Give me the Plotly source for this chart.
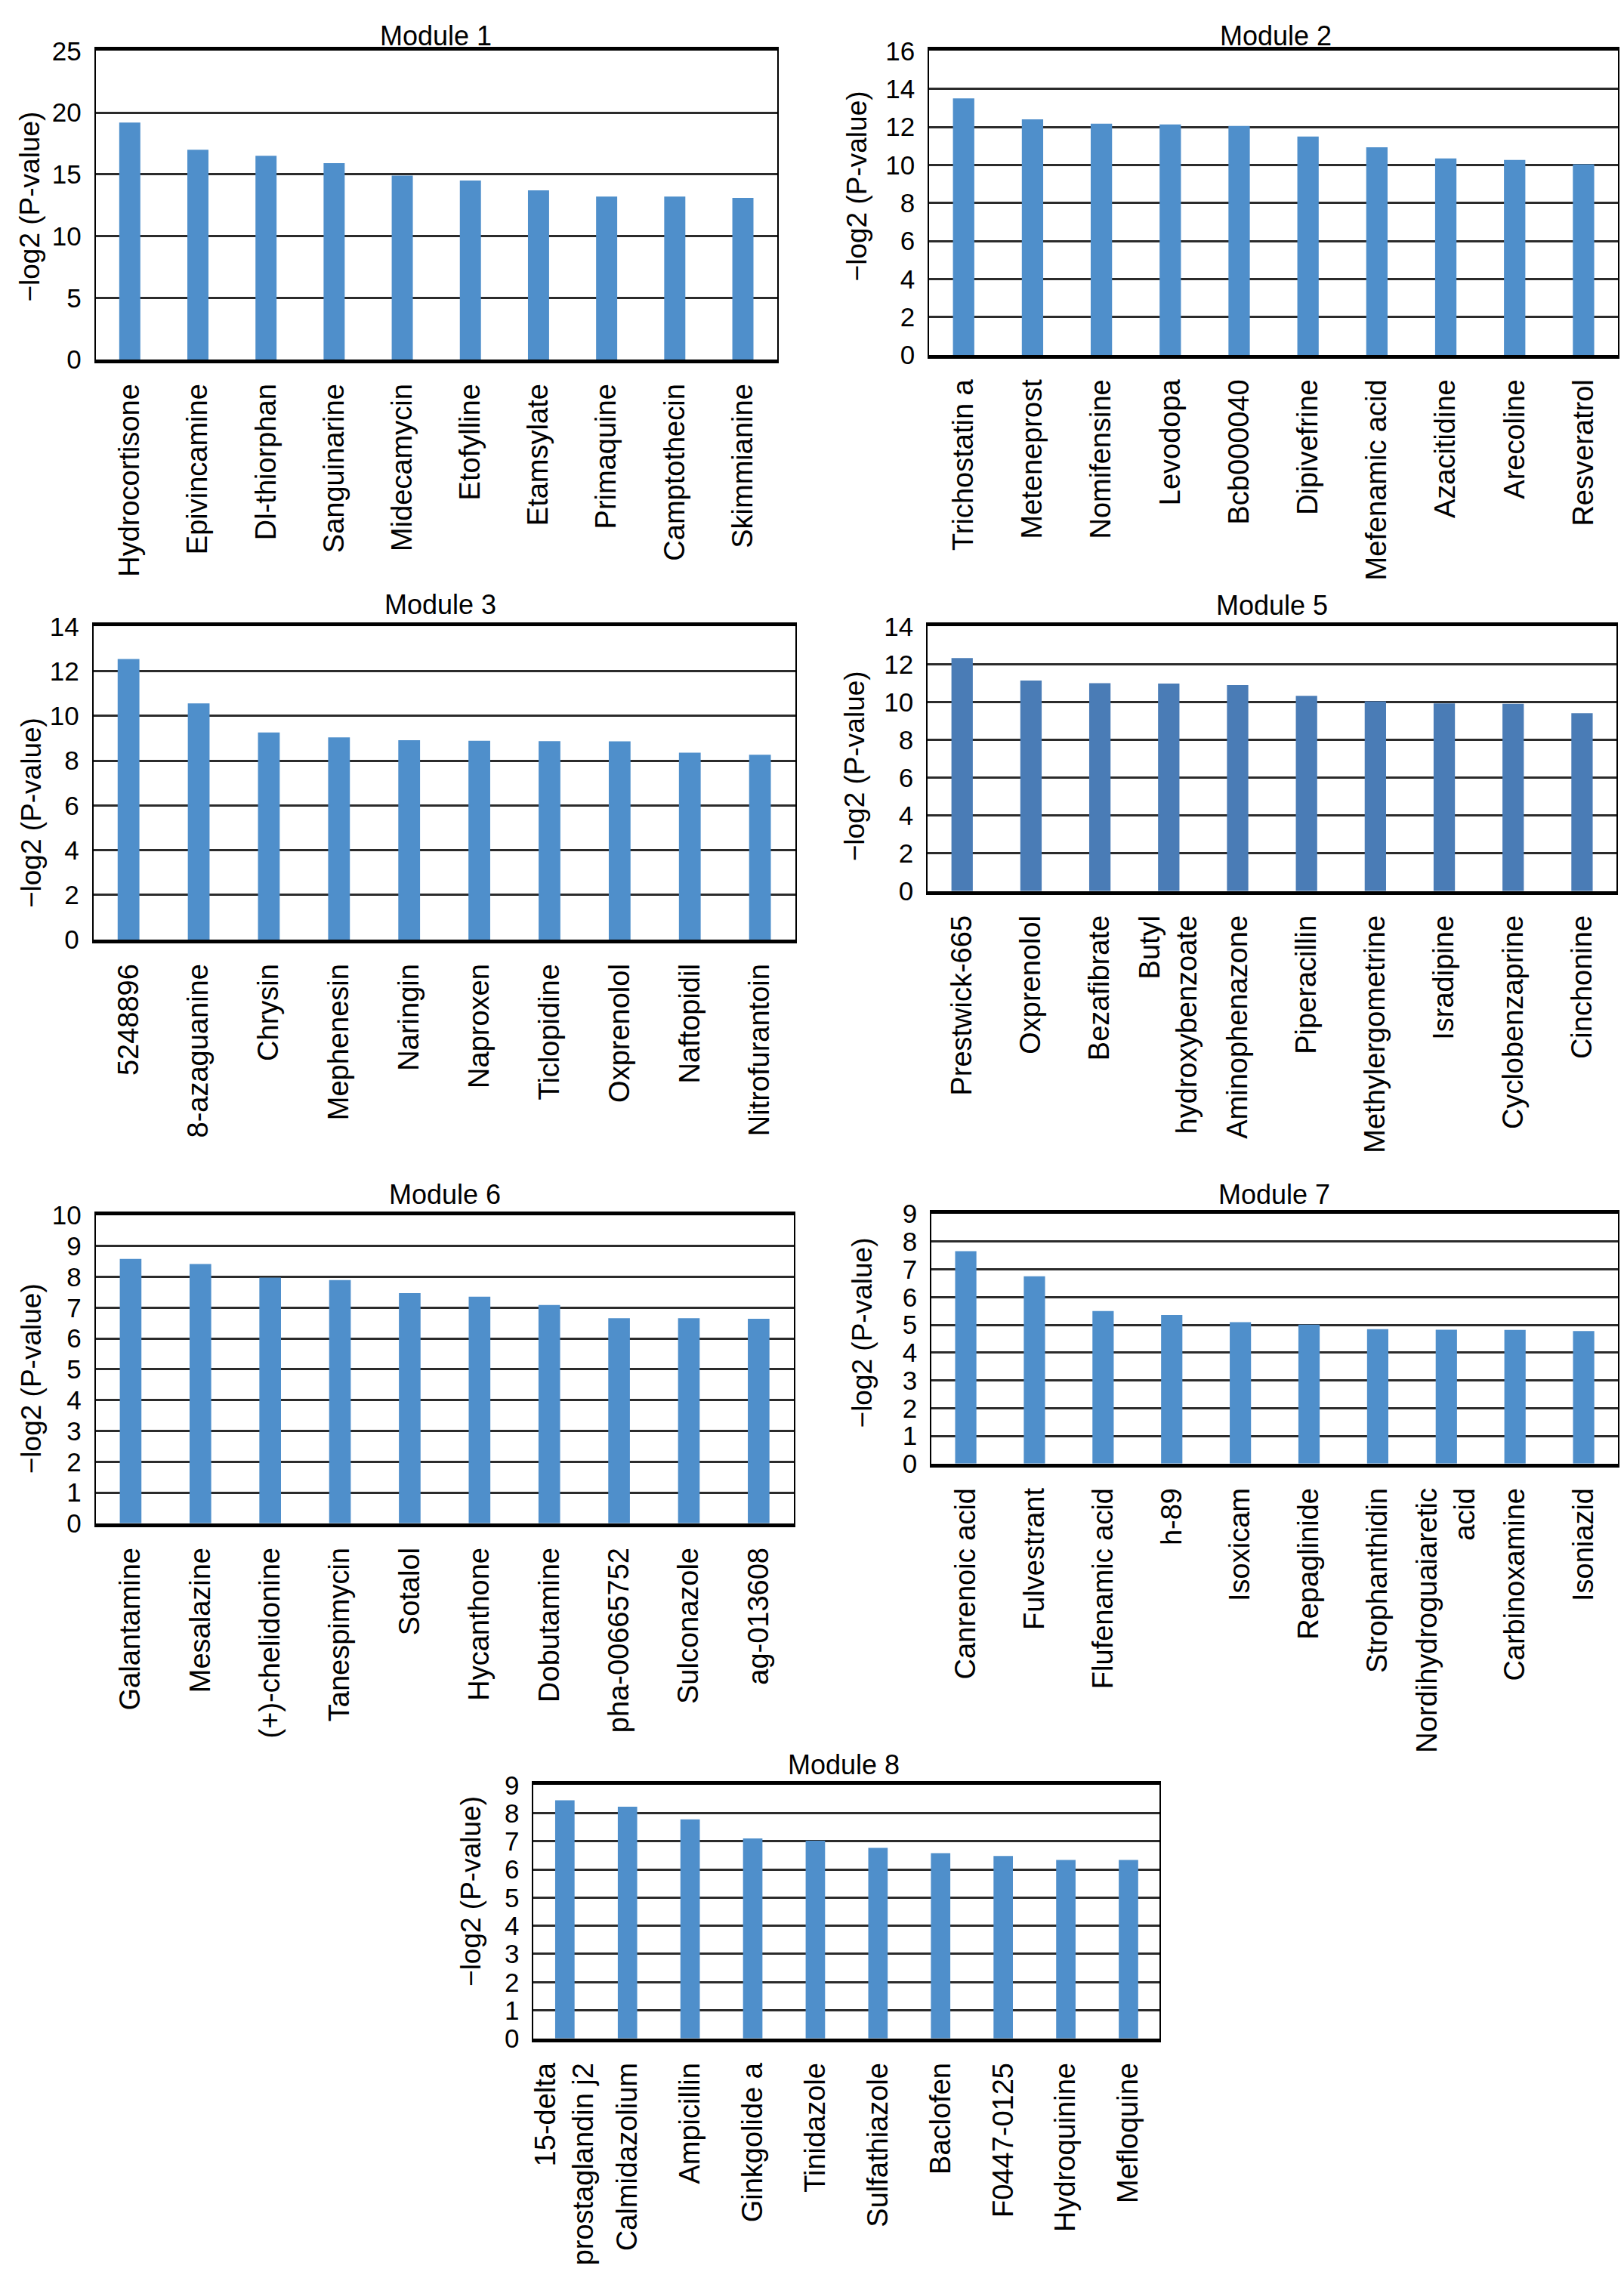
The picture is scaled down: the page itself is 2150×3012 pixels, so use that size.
import plotly.graph_objects as go

W, H = 2150, 3012

# ---------------- data ----------------
m1_labels = ["Hydrocortisone", "Epivincamine", "Dl-thiorphan", "Sanguinarine", "Midecamycin",
             "Etofylline", "Etamsylate", "Primaquine", "Camptothecin", "Skimmianine"]
m1_values = [19.2, 17.0, 16.5, 15.9, 14.9, 14.5, 13.7, 13.2, 13.2, 13.1]

m2_labels = ["Trichostatin a", "Meteneprost", "Nomifensine", "Levodopa", "Bcb000040",
             "Dipivefrine", "Mefenamic acid", "Azacitidine", "Arecoline", "Resveratrol"]
m2_values = [13.5, 12.4, 12.17, 12.13, 12.05, 11.5, 10.93, 10.34, 10.26, 10.04]

m3_labels = ["5248896", "8-azaguanine", "Chrysin", "Mephenesin", "Naringin",
             "Naproxen", "Ticlopidine", "Oxprenolol", "Naftopidil", "Nitrofurantoin"]
m3_values = [12.54, 10.56, 9.26, 9.04, 8.91, 8.89, 8.87, 8.86, 8.36, 8.26]

m5_labels = ["Prestwick-665", "Oxprenolol", "Bezafibrate", "Butyl<br>hydroxybenzoate", "Aminophenazone",
             "Piperacillin", "Methylergometrine", "Isradipine", "Cyclobenzaprine", "Cinchonine"]
m5_values = [12.33, 11.14, 11.0, 10.98, 10.9, 10.33, 10.04, 9.93, 9.91, 9.41]

m6_labels = ["Galantamine", "Mesalazine", "(+)-chelidonine", "Tanespimycin", "Sotalol",
             "Hycanthone", "Dobutamine", "pha-00665752", "Sulconazole", "ag-013608"]
m6_values = [8.59, 8.42, 7.98, 7.9, 7.48, 7.36, 7.09, 6.66, 6.66, 6.64]

m7_labels = ["Canrenoic acid", "Fulvestrant", "Flufenamic acid", "h-89", "Isoxicam",
             "Repaglinide", "Strophanthidin", "Nordihydroguaiaretic<br>acid", "Carbinoxamine", "Isoniazid"]
m7_values = [7.66, 6.75, 5.5, 5.36, 5.1, 5.01, 4.85, 4.83, 4.82, 4.78]

m8_labels = ["15-delta<br>prostaglandin j2", "Calmidazolium", "Ampicillin", "Ginkgolide a", "Tinidazole",
             "Sulfathiazole", "Baclofen", "F0447-0125", "Hydroquinine", "Mefloquine"]
m8_values = [8.46, 8.23, 7.78, 7.1, 7.02, 6.77, 6.58, 6.48, 6.34, 6.34]

titles = ["Module 1", "Module 2", "Module 3", "Module 5", "Module 6", "Module 7", "Module 8"]
y_max = [25, 16, 14, 14, 10, 9, 9]
y_step = [5, 2, 2, 2, 1, 1, 1]
y_title = "\u2212log2 (P-value)"

# ---------------- layout (pixel boxes: left, right, top, bottom) ----------------
BLUE = "#4F8FCB"
BLUE_DARK = "#4A7CB6"
boxes = [
    (122, 1026, 48, 462),
    (1228, 2142, 48, 456),
    (119, 1050, 820, 1240),
    (1226, 2140, 820, 1175),
    (122, 1048, 1610, 2023),
    (1231, 2142, 1608, 1943),
    (703, 1534, 2374, 2714),
]
title_pos = [(573, 28), (1688, 28), (579, 791), (1683, 792), (585, 1582), (1686, 1582), (1115, 2347)]
ytitle_pos = [(35, 257), (1132, 229), (36, 1070), (1130, 1007), (36, 1829), (1139, 1767), (620, 2517)]
colors = [BLUE, BLUE, BLUE, BLUE_DARK, BLUE, BLUE, BLUE]

series = [(m1_labels, m1_values), (m2_labels, m2_values), (m3_labels, m3_values),
          (m5_labels, m5_values), (m6_labels, m6_values), (m7_labels, m7_values),
          (m8_labels, m8_values)]

SANS = "Liberation Sans, Arial, Helvetica, sans-serif"

fig = go.Figure()
layout = dict(
    width=W, height=H,
    margin=dict(l=0, r=0, t=0, b=0),
    paper_bgcolor="white", plot_bgcolor="white",
    showlegend=False, bargap=0.69,
    annotations=[],
)

for i, ((labels, values), (l, r, t, b)) in enumerate(zip(series, boxes)):
    n = i + 1
    xa = "x" if n == 1 else f"x{n}"
    ya = "y" if n == 1 else f"y{n}"
    fig.add_trace(go.Bar(x=labels, y=values, xaxis=xa, yaxis=ya,
                         marker=dict(color=colors[i], line=dict(width=0))))
    xkey = "xaxis" if n == 1 else f"xaxis{n}"
    ykey = "yaxis" if n == 1 else f"yaxis{n}"
    layout[xkey] = dict(
        domain=[l / W, r / W], anchor=ya,
        showline=True, linecolor="black", linewidth=5, mirror=True,
        showgrid=False, ticks="", tickangle=-90,
        tickfont=dict(family=SANS, size=38, color="black"),
        ticklabelstandoff=12,
    )
    layout[ykey] = dict(
        domain=[1 - b / H, 1 - t / H], anchor=xa,
        range=[0, y_max[i]], dtick=y_step[i], tick0=0,
        showline=True, linecolor="black", linewidth=2, mirror=True,
        showgrid=True, gridcolor="#2b2b2b", gridwidth=3,
        zeroline=False, ticks="",
        tickfont=dict(family=SANS, size=35, color="black"),
        ticklabelstandoff=10,
    )
    tx, ty = title_pos[i]
    layout["annotations"].append(dict(
        text=titles[i], xref="paper", yref="paper",
        x=tx / W, y=1 - ty / H, xanchor="center", yanchor="middle",
        showarrow=False, font=dict(family=SANS, size=36, color="black")))
    yx, yy = ytitle_pos[i]
    layout["annotations"].append(dict(
        text=y_title, xref="paper", yref="paper", textangle=-90,
        x=yx / W, y=1 - yy / H, xanchor="center", yanchor="middle",
        showarrow=False, font=dict(family=SANS, size=37, color="black")))

fig.update_layout(**layout)
fig.write_html("out.html", config={"displayModeBar": False},
               post_script="document.body.style.margin='0';")
